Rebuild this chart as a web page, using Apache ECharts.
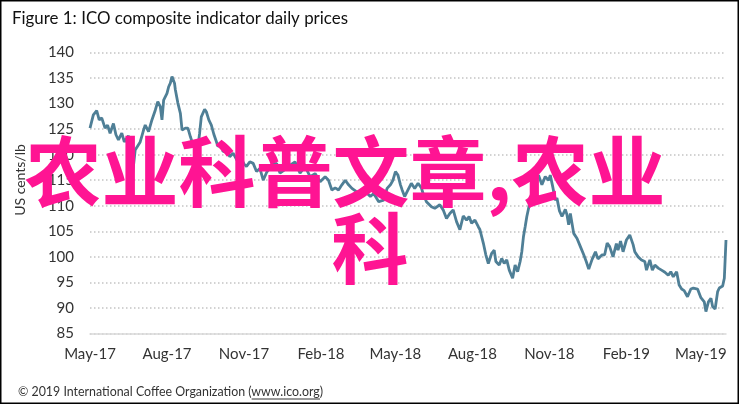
<!DOCTYPE html>
<html>
<head>
<meta charset="utf-8">
<script src="https://cdn.jsdelivr.net/npm/echarts@6/dist/echarts.min.js"></script>
<style>
html,body{margin:0;padding:0;background:#fff;}
#chart{width:739px;height:404px;}
</style>
</head>
<body>
<div id="chart"></div>
<script>
// ---- data ----
const titleText = 'Figure 1: ICO composite indicator daily prices';
const yAxisName = 'US cents/lb';
const footerPrefix = '\u00a9 2019 International Coffee Organization (';
const footerLink = 'www.ico.org';
const footerSuffix = ')';
const overlayLine1 = '农业科普文章,农业';
const overlayLine2 = '科';

const tickDates = ['2017-05-01','2017-08-01','2017-11-01','2018-02-01','2018-05-01','2018-08-01','2018-11-01','2019-02-01','2019-05-01'];
const tickLabels = ['May-17','Aug-17','Nov-17','Feb-18','May-18','Aug-18','Nov-18','Feb-19','May-19'];

const dates = [
'2017-05-01','2017-05-05','2017-05-09','2017-05-12','2017-05-15','2017-05-19','2017-05-22','2017-05-25','2017-05-29',
'2017-06-01','2017-06-04','2017-06-08','2017-06-11','2017-06-16','2017-06-19','2017-06-21','2017-06-24','2017-06-30',
'2017-07-04','2017-07-06','2017-07-10','2017-07-14','2017-07-18','2017-07-21','2017-07-24','2017-07-26','2017-07-28',
'2017-08-01','2017-08-03','2017-08-05','2017-08-07','2017-08-10','2017-08-11','2017-08-14','2017-08-17','2017-08-19',
'2017-08-21','2017-08-23','2017-08-26','2017-08-29','2017-08-31',
'2017-09-03','2017-09-07','2017-09-09','2017-09-11','2017-09-15','2017-09-17','2017-09-20','2017-09-23','2017-09-26',
'2017-10-01','2017-10-05','2017-10-07','2017-10-11','2017-10-15','2017-10-19','2017-10-24','2017-10-28',
'2017-11-01','2017-11-04','2017-11-08','2017-11-12','2017-11-16','2017-11-20','2017-11-24','2017-11-28',
'2017-12-04','2017-12-10','2017-12-14','2017-12-19','2017-12-24',
'2018-01-01','2018-01-07','2018-01-13','2018-01-19','2018-01-25','2018-01-31',
'2018-02-06','2018-02-10','2018-02-14','2018-02-18','2018-02-22','2018-02-26',
'2018-03-02','2018-03-06','2018-03-10','2018-03-15','2018-03-22','2018-03-26',
'2018-04-01','2018-04-05','2018-04-11','2018-04-17','2018-04-21','2018-04-25','2018-04-28',
'2018-05-01','2018-05-04','2018-05-07','2018-05-09','2018-05-12','2018-05-16','2018-05-20','2018-05-24','2018-05-28',
'2018-06-01','2018-06-03','2018-06-07','2018-06-13','2018-06-17','2018-06-23','2018-06-27',
'2018-07-01','2018-07-05','2018-07-09','2018-07-13','2018-07-17','2018-07-21','2018-07-25','2018-07-28','2018-07-31',
'2018-08-04','2018-08-08','2018-08-10','2018-08-14','2018-08-17','2018-08-20','2018-08-24','2018-08-27','2018-08-29',
'2018-09-02','2018-09-05','2018-09-08','2018-09-11','2018-09-14','2018-09-18','2018-09-21','2018-09-24','2018-09-27','2018-09-29',
'2018-10-01','2018-10-03','2018-10-05','2018-10-08','2018-10-11','2018-10-15','2018-10-19','2018-10-23','2018-10-27','2018-10-31',
'2018-11-02','2018-11-05','2018-11-08','2018-11-10','2018-11-13','2018-11-16','2018-11-20','2018-11-22','2018-11-24','2018-11-26','2018-11-30',
'2018-12-04','2018-12-08','2018-12-12','2018-12-15','2018-12-18','2018-12-22','2018-12-26','2018-12-29',
'2019-01-03','2019-01-06','2019-01-09','2019-01-12','2019-01-16','2019-01-20','2019-01-22','2019-01-25','2019-01-28',
'2019-02-01','2019-02-05','2019-02-09','2019-02-11','2019-02-15','2019-02-19','2019-02-23','2019-02-25',
'2019-03-01','2019-03-04','2019-03-07','2019-03-11','2019-03-15','2019-03-19','2019-03-23','2019-03-26','2019-03-29',
'2019-04-02','2019-04-05','2019-04-08','2019-04-11','2019-04-15','2019-04-19','2019-04-22','2019-04-27',
'2019-05-01','2019-05-05','2019-05-07','2019-05-10','2019-05-13','2019-05-15','2019-05-18','2019-05-21','2019-05-23','2019-05-27','2019-05-29','2019-05-31'
];

const prices = [
125.2,127.8,128.6,126.8,127.2,125.2,125.8,124.2,126.1,
123.9,122.9,124.2,122.5,123.7,122.0,116.4,120.9,122.5,
124.8,125.8,124.5,126.8,128.7,130.4,129.4,126.8,130.7,
132.0,133.3,134.0,135.3,134.0,132.7,130.1,128.1,124.8,
124.5,125.2,125.2,123.5,122.5,
121.6,121.6,124.2,127.4,128.9,128.4,126.8,125.8,124.0,
121.6,122.2,120.6,120.9,119.6,120.3,118.8,119.5,
118.2,117.7,118.6,118.3,116.7,117.3,115.0,116.5,
118.0,118.3,116.4,117.0,117.7,
118.6,116.4,117.7,115.7,116.3,114.7,
115.7,115.0,113.1,113.5,113.1,114.1,
115.0,114.1,113.4,112.8,112.1,112.8,
111.8,112.4,110.8,111.1,113.4,114.1,115.0,
116.7,116.0,114.1,113.1,111.8,113.1,114.4,113.4,114.4,
113.5,112.4,110.8,109.8,109.5,110.2,109.2,
107.5,108.5,109.2,106.9,105.3,108.0,107.2,107.9,106.6,
107.2,105.9,105.3,102.7,100.4,98.7,100.7,101.3,99.1,
98.4,99.7,98.7,99.4,97.4,95.8,98.4,97.1,99.1,101.0,
104.0,105.9,107.9,110.2,112.5,114.8,116.0,114.1,115.7,115.0,
116.0,113.7,111.1,111.5,109.0,107.9,109.3,108.2,106.3,108.5,104.6,
103.6,102.0,100.4,99.1,97.6,99.5,101.0,99.6,
100.4,100.4,102.7,102.0,100.0,102.6,101.3,103.1,101.0,
103.3,104.3,102.4,101.0,100.0,99.4,99.1,97.4,
99.4,97.4,98.4,97.8,97.4,97.0,96.4,97.1,96.1,
97.1,94.5,93.7,93.4,92.2,93.7,93.9,93.7,
92.0,91.2,89.3,91.2,91.9,90.3,89.8,93.2,93.9,94.3,95.8,103.3
];

const yMin = 85, yMax = 140, yStep = 5;
const xMin = '2017-05-01', xMax = '2019-05-31';

// ---- build ----
function toTime(s){ const p = s.split('-'); return Date.UTC(+p[0], +p[1]-1, +p[2]); }
const tickTimes = tickDates.map(toTime);
const seriesData = dates.map((d,i)=>[toTime(d), prices[i]]);

const FONT = 'Lato, "Open Sans", sans-serif';
const FOOT_SIZE = 12.4;
const mc = document.createElement('canvas').getContext('2d');
mc.font = FOOT_SIZE + 'px ' + FONT;
const prefixW = mc.measureText(footerPrefix).width;
const linkW = mc.measureText(footerLink).width;
const footerX = 18, footerY = 392;

const chart = echarts.init(document.getElementById('chart'), null, {renderer:'canvas'});
chart.setOption({
  backgroundColor:'#ffffff',
  animation:false,
  grid:{left:90, right:13, top:52.5, bottom:70.5, containLabel:false},
  xAxis:{
    type:'value', min:toTime(xMin), max:toTime(xMax),
    axisLine:{show:true, lineStyle:{color:'#d9d9d9', width:1.5}},
    axisTick:{show:false},
    splitLine:{show:false},
    axisLabel:{
      customValues:tickTimes,
      formatter:function(v){ const i = tickTimes.indexOf(v); return i>=0 ? tickLabels[i] : ''; },
      color:'#333', fontSize:15, fontFamily:FONT, margin:13, hideOverlap:false
    }
  },
  yAxis:{
    type:'value', min:yMin, max:yMax, interval:yStep,
    axisLine:{show:false}, axisTick:{show:false},
    axisLabel:{color:'#333', fontSize:15, fontFamily:FONT, margin:16},
    splitLine:{show:true, lineStyle:{color:'#c4c4c4', width:1.5, type:[1.5,2.5]}}
  },
  series:[{
    type:'line', data:seriesData, showSymbol:false, symbol:'none',
    lineStyle:{color:'#4f7f96', width:2.8}, z:3
  }],
  graphic:[
    {type:'rect', shape:{x:0.75, y:0.75, width:737.5, height:402.5}, style:{fill:'none', stroke:'#000', lineWidth:1.5}, z:200},
    {type:'text', x:12, y:18.5, style:{text:titleText, font:'16.9px '+FONT, fill:'#111', textVerticalAlign:'middle'}, z:100},
    {type:'text', x:20, y:180, rotation:Math.PI/2, style:{text:yAxisName, font:'14px '+FONT, fill:'#333', textAlign:'center', textVerticalAlign:'middle'}, z:100},
    {type:'text', x:footerX, y:footerY, style:{text:footerPrefix+footerLink+footerSuffix, font:FOOT_SIZE+'px '+FONT, fill:'#333', textVerticalAlign:'middle'}, z:100},
    {type:'line', shape:{x1:footerX+prefixW, y1:footerY+7, x2:footerX+prefixW+linkW, y2:footerY+7}, style:{stroke:'#333', lineWidth:1}, z:100},
    {type:'text', x:345, y:172, style:{text:overlayLine1, font:'bold 77px "Noto Sans CJK SC", sans-serif', fill:'#ff1493', textAlign:'center', textVerticalAlign:'middle'}, z:150},
    {type:'text', x:370, y:249, style:{text:overlayLine2, font:'bold 77px "Noto Sans CJK SC", sans-serif', fill:'#ff1493', textAlign:'center', textVerticalAlign:'middle'}, z:150}
  ]
});
</script>
</body>
</html>
